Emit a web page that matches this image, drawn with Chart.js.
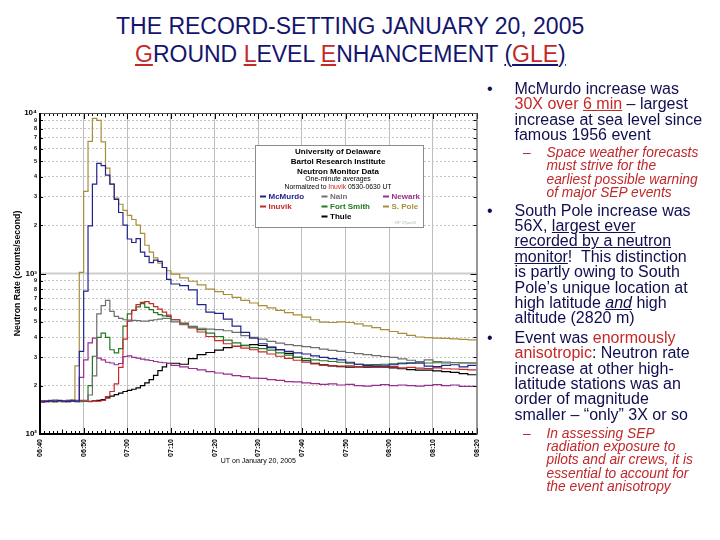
<!DOCTYPE html>
<html>
<head>
<meta charset="utf-8">
<script src="https://cdn.jsdelivr.net/npm/chart.js@4.4.1/dist/chart.umd.min.js"></script>
<style>
  html, body { margin: 0; padding: 0; background: #fff; }
  body { width: 720px; height: 540px; position: relative; overflow: hidden; font-family: Arial, "Liberation Sans", sans-serif; }
  #gle { position: absolute; left: 0; top: 100px; }
  .title { position: absolute; font-size: 23px; line-height: 23px; color: #14146e; white-space: nowrap; }
  .r { color: #c62828; }
  .txt { position: absolute; left: 514.5px; font-size: 16px; line-height: 15.4px; color: #0e0e50; white-space: nowrap; }
  .sub { position: absolute; left: 546.5px; font-size: 13.8px; line-height: 13.6px; font-style: italic; color: #c0282a; white-space: nowrap; }
  .dot { position: absolute; left: 487px; font-size: 16px; line-height: 15.4px; color: #0e0e50; }
  .dash { position: absolute; left: 523px; font-size: 13.8px; line-height: 13.6px; color: #c0282a; }
</style>
</head>
<body>
<canvas id="gle" width="490" height="375"></canvas>

<div class="title" style="left:116px; top:14.8px;">THE RECORD-SETTING JANUARY 20, 2005</div>
<div class="title" style="left:135px; top:42.8px;"><u class="r">G</u>ROUND <u class="r">L</u>EVEL <u class="r">E</u>NHANCEMENT <u>(<span class="r">GLE</span>)</u></div>

<div class="dot" style="top:80.8px;">•</div>
<div class="txt" style="top:80.8px;">McMurdo increase was<br><span class="r">30X over <u>6 min</u></span> – largest<br>increase at sea level since<br>famous 1956 event</div>

<div class="dash" style="top:145.6px;">–</div>
<div class="sub" style="top:145.6px;">Space weather forecasts<br>must strive for the<br>earliest possible warning<br>of major SEP events</div>

<div class="dot" style="top:202.5px;">•</div>
<div class="txt" style="top:202.5px;">South Pole increase was<br>56X, <u>largest ever</u><br><u>recorded by a neutron</u><br><u>monitor</u>!&nbsp; This distinction<br>is partly owing to South<br>Pole’s unique location at<br>high latitude <u><i>and</i></u> high<br>altitude (2820 m)</div>

<div class="dot" style="top:329.8px;">•</div>
<div class="txt" style="top:329.8px;">Event was <span class="r">enormously</span><br><span class="r">anisotropic</span>: Neutron rate<br>increase at other high-<br>latitude stations was an<br>order of magnitude<br>smaller – “only” 3X or so</div>

<div class="dash" style="top:427px; line-height:13.2px;">–</div>
<div class="sub" style="top:427px; line-height:13.2px;">In assessing SEP<br>radiation exposure to<br>pilots and air crews, it is<br>essential to account for<br>the event anisotropy</div>

<script>
// minutes after 06:40 UT (one-minute steps during the onset, two-minute steps later)
const minutes = [0, 1, 2, 3, 4, 5, 6, 7, 8, 9, 10, 11, 12, 13, 14, 15, 16, 17, 18, 19, 20,
  21, 22, 23, 24, 25, 26, 27, 28, 29, 30,
  32, 34, 36, 38, 40, 42, 44, 46, 48, 50, 52, 54, 56, 58, 60, 62, 64, 66, 68, 70,
  72, 74, 76, 78, 80, 82, 84, 86, 88, 90, 92, 94, 96, 98, 100];

// neutron rates, counts/second
const mcmurdo = [158, 160, 159, 161, 160, 162, 160, 159, 161, 160, 327, 777, 1980, 3600, 4850, 4700, 4100, 3600, 2900, 2400,
  2000, 1640, 1560, 1650, 1360, 1280, 1170, 1210, 1190, 1090, 920,
  860, 840, 790, 640, 575, 565, 520, 470, 430, 395, 365, 345, 335, 327, 320, 315, 307, 300, 295, 290,
  280, 272, 268, 266, 266, 270, 274, 276, 277, 265, 263, 268, 270, 262, 268];
const nain = [160, 161, 159, 160, 162, 161, 160, 159, 160, 161, 160, 162, 175, 230, 560, 630, 680, 580, 540, 525,
  515, 512, 510, 508, 505, 505, 510, 515, 520, 525, 525,
  500, 480, 465, 456, 450, 447, 440, 430, 410, 400, 390, 378, 368, 360, 355, 350, 345, 338, 332, 327,
  322, 317, 312, 308, 304, 300, 294, 288, 283, 290, 283, 281, 279, 278, 277];
const newark = [160, 159, 161, 160, 162, 160, 159, 161, 160, 162, 225, 290, 370, 396, 297, 290, 280, 277, 270, 275,
  304, 307, 300, 297, 293, 290, 287, 283, 280, 278, 275,
  268, 262, 256, 251, 245, 240, 236, 231, 228, 223, 222, 218, 216, 212, 211, 208, 206, 204, 205, 202,
  204, 200, 199, 201, 203, 200, 202, 200, 199, 201, 203, 200, 202, 198, 198];
const inuvik = [157, 158, 160, 159, 161, 160, 159, 160, 161, 160, 162, 160, 159, 161, 160, 162, 171, 184, 205, 260,
  390, 505, 590, 640, 660, 668, 650, 622, 600, 575, 550,
  515, 485, 458, 432, 405, 382, 365, 352, 343, 335, 325, 315, 305, 296, 288, 280, 273, 268, 266, 265,
  266, 262, 264, 260, 261, 263, 258, 260, 257, 256, 258, 255, 254, 253, 251];
const fortSmith = [161, 160, 160, 162, 159, 160, 161, 160, 162, 160, 159, 161, 200, 305, 400, 425, 400, 335, 320, 340,
  470, 560, 590, 620, 650, 615, 595, 570, 555, 545, 540,
  515, 490, 468, 447, 425, 405, 385, 370, 355, 345, 340, 333, 320, 310, 300, 295, 290, 286, 283, 280,
  276, 272, 270, 271, 272, 274, 277, 278, 277, 277, 278, 277, 278, 277, 277];
const sPole = [160, 158, 161, 160, 162, 159, 161, 160, 163, 266, 1015, 3250, 6650, 9250, 9000, 6600, 4530, 3600, 2950, 2700,
  2470, 2300, 2170, 2000, 1780, 1500, 1360, 1250, 1160, 1090, 1040,
  990, 940, 895, 850, 800, 770, 740, 710, 680, 655, 630, 610, 590, 570, 552, 535, 515, 498, 495, 500,
  495, 485, 472, 460, 447, 435, 423, 412, 402, 398, 396, 394, 392, 389, 386];
const thule = [159, 160, 161, 160, 159, 161, 160, 162, 160, 159, 161, 160, 160, 161, 162, 164, 168, 172, 176, 180,
  184, 187, 190, 194, 200, 208, 218, 232, 248, 262, 276,
  276, 272, 295, 312, 322, 333, 345, 352, 357, 360, 356, 348, 335, 318, 300, 286, 276, 270, 266, 263,
  261, 262, 261, 262, 261, 258, 255, 252, 250, 250, 247, 245, 242, 238, 234];

const stationNames = ['McMurdo', 'Nain', 'Newark', 'Inuvik', 'Fort Smith', 'S. Pole', 'Thule'];
const stationColors = ['#22228e', '#6e6e6e', '#9b2d8f', '#c42a2a', '#217a21', '#a88e3a', '#000000'];
const stationData = [mcmurdo, nain, newark, inuvik, fortSmith, sPole, thule];

const xTickMinutes = [0, 10, 20, 30, 40, 50, 60, 70, 80, 90, 100];
const xTickLabels = ['06:40', '06:50', '07:00', '07:10', '07:20', '07:30', '07:40', '07:50', '08:00', '08:10', '08:20'];
const yTickValues = [100, 200, 300, 400, 500, 600, 700, 800, 900,
  1000, 2000, 3000, 4000, 5000, 6000, 7000, 8000, 9000, 10000];

const FONT = 'Arial, "Liberation Sans", sans-serif';

function isDecade(v) {
  return v === 100 || v === 1000 || v === 10000;
}

// solid decade line, frame and inward ticks on all four sides
const frameTicks = {
  id: 'frameTicks',
  beforeDatasetsDraw(chart) {
    const { ctx, chartArea: a, scales: { y } } = chart;
    const y3 = y.getPixelForValue(1000);
    ctx.save();
    ctx.strokeStyle = '#cdcdcd';
    ctx.lineWidth = 2;
    ctx.beginPath();
    ctx.moveTo(a.left, y3);
    ctx.lineTo(a.right, y3);
    ctx.stroke();
    ctx.restore();
  },
  afterDatasetsDraw(chart) {
    const { ctx, chartArea: a, scales: { x, y } } = chart;
    ctx.save();
    ctx.strokeStyle = '#000';
    ctx.lineWidth = 1;
    ctx.beginPath();
    for (let m = 0; m <= 100; m++) {
      const px = Math.round(x.getPixelForValue(m)) + 0.5;
      const len = m % 10 === 0 ? 6 : (m % 5 === 0 ? 4.5 : 3);
      ctx.moveTo(px, a.bottom);
      ctx.lineTo(px, a.bottom - len);
      ctx.moveTo(px, a.top);
      ctx.lineTo(px, a.top + len);
    }
    yTickValues.forEach((v) => {
      const py = Math.round(y.getPixelForValue(v)) + 0.5;
      const len = isDecade(v) ? 6 : 3;
      ctx.moveTo(a.left, py);
      ctx.lineTo(a.left + len, py);
      ctx.moveTo(a.right, py);
      ctx.lineTo(a.right - len, py);
    });
    ctx.stroke();
    ctx.strokeStyle = '#555';
    ctx.strokeRect(a.left + 0.5, a.top + 0.5, a.right - a.left, a.bottom - a.top);
    ctx.strokeStyle = '#000';
    ctx.lineWidth = 2;
    ctx.beginPath();
    ctx.moveTo(a.left, a.top);
    ctx.lineTo(a.left, a.bottom);
    ctx.lineTo(a.right, a.bottom);
    ctx.stroke();
    ctx.restore();
  }
};

// boxed legend with the Bartol header
const legendBox = {
  id: 'legendBox',
  afterDraw(chart) {
    const { ctx, chartArea: a } = chart;
    const bx = a.left + 215, by = a.top + 32, bw = 168, bh = 82;
    ctx.save();
    ctx.fillStyle = '#fff';
    ctx.fillRect(bx, by, bw, bh);
    ctx.strokeStyle = '#8c8c8c';
    ctx.lineWidth = 1;
    ctx.strokeRect(bx + 0.5, by + 0.5, bw, bh);

    ctx.textBaseline = 'middle';
    ctx.textAlign = 'center';
    ctx.fillStyle = '#000';
    ctx.font = 'bold 8px ' + FONT;
    ctx.fillText('University of Delaware', bx + 83, by + 6.5);
    ctx.fillText('Bartol Research Institute', bx + 83, by + 16.5);
    ctx.fillText('Neutron Monitor Data', bx + 83, by + 26.5);
    ctx.font = '6.8px ' + FONT;
    ctx.fillText('One-minute averages', bx + 83, by + 34.5);

    // "Normalized to Inuvik 0530-0630 UT" with the station in red
    const parts = [['Normalized to ', '#000'], ['Inuvik', '#c42a2a'], [' 0530-0630 UT', '#000']];
    ctx.textAlign = 'left';
    const total = parts.reduce((s, p) => s + ctx.measureText(p[0]).width, 0);
    let tx = bx + 83 - total / 2;
    parts.forEach(([t, c]) => {
      ctx.fillStyle = c;
      ctx.fillText(t, tx, by + 42.5);
      tx += ctx.measureText(t).width;
    });

    ctx.font = 'bold 8px ' + FONT;
    chart.data.datasets.forEach((ds, i) => {
      let col = i % 3, row = Math.floor(i / 3);
      if (i === 6) { col = 1; row = 2; }
      const lx = bx + 5 + col * 61.5;
      const ly = by + 51.5 + row * 10;
      ctx.fillStyle = ds.borderColor;
      ctx.fillRect(lx, ly - 1, 6, 2);
      ctx.fillText(ds.label, lx + 8.5, ly);
    });

    ctx.font = '4px ' + FONT;
    ctx.fillStyle = '#b4b4b4';
    ctx.fillText('RP 27jan05', bx + 140, by + 78);
    ctx.restore();
  }
};

const datasets = stationNames.map((name, i) => ({
  label: name,
  data: minutes.map((m, k) => ({ x: m, y: stationData[i][k] })),
  borderColor: stationColors[i],
  backgroundColor: stationColors[i],
  borderWidth: 1.2,
  stepped: 'after',
  pointRadius: 0,
  fill: false
}));

new Chart(document.getElementById('gle'), {
  type: 'line',
  data: { datasets },
  options: {
    responsive: false,
    animation: false,
    layout: { padding: { top: 13, right: 13, left: 0, bottom: 0 } },
    plugins: { legend: { display: false }, tooltip: { enabled: false } },
    scales: {
      x: {
        type: 'linear',
        min: 0,
        max: 100,
        afterBuildTicks: (s) => { s.ticks = xTickMinutes.map((v) => ({ value: v })); },
        afterFit: (s) => { s.height = 41; },
        grid: { color: '#bdbdbd', lineWidth: 1, drawTicks: false },
        border: { display: false },
        ticks: {
          autoSkip: false,
          minRotation: 90,
          maxRotation: 90,
          padding: 5,
          color: '#000',
          font: { family: FONT, size: 7, weight: 'bold' },
          callback: (v, i) => xTickLabels[i]
        },
        title: {
          display: true,
          text: 'UT on January 20, 2005',
          color: '#000',
          font: { family: FONT, size: 7 },
          padding: { top: 0, bottom: 10 }
        }
      },
      y: {
        type: 'logarithmic',
        min: 100,
        max: 10000,
        afterBuildTicks: (s) => { s.ticks = yTickValues.map((v) => ({ value: v })); },
        afterFit: (s) => { s.width = 40; },
        grid: {
          color: (ctx) => (ctx.tick && isDecade(ctx.tick.value) ? 'rgba(0,0,0,0)' : '#c4c4c4'),
          lineWidth: 1,
          drawTicks: false
        },
        border: { display: false, dash: [2, 2] },
        ticks: {
          autoSkip: false,
          padding: 3,
          color: '#000',
          font: (ctx) => (ctx.tick && isDecade(ctx.tick.value)
            ? { family: FONT, size: 8, weight: 'bold' }
            : { family: FONT, size: 5.5, weight: 'bold' }),
          callback: (v) => {
            if (v === 100) return '10²';
            if (v === 1000) return '10³';
            if (v === 10000) return '10⁴';
            return String(Math.round(v / Math.pow(10, Math.floor(Math.log10(v) + 1e-9))));
          }
        },
        title: {
          display: true,
          text: 'Neutron Rate (counts/second)',
          color: '#000',
          font: { family: FONT, size: 8.8, weight: 'bold' },
          padding: { top: 12, bottom: 0 }
        }
      }
    }
  },
  plugins: [frameTicks, legendBox]
});
</script>
</body>
</html>
